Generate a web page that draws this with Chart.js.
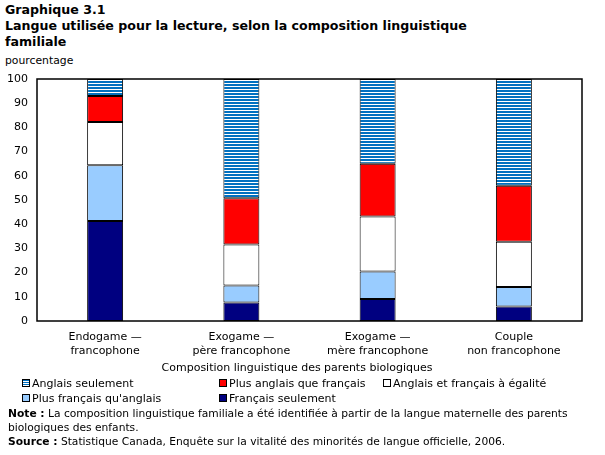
<!DOCTYPE html>
<html><head><meta charset="utf-8">
<script src="https://cdn.jsdelivr.net/npm/chart.js@4"></script>
<style>
html,body{margin:0;padding:0;background:#fff;}
body{width:605px;height:455px;position:relative;overflow:hidden;font-family:"DejaVu Sans",Verdana,sans-serif;color:#000;}
.abs{position:absolute;white-space:nowrap;}
#title{left:5px;top:2px;font-weight:bold;font-size:12.6px;line-height:16px;}
#ylab{left:5px;top:54px;font-size:10.8px;}
#chartbox{position:absolute;left:0;top:0;width:605px;height:455px;}
#xtitle{top:361px;left:297px;transform:translateX(-50%);font-size:11px;}
#legend{left:0;top:377px;width:605px;height:30px;font-size:11px;}
.li{position:absolute;white-space:nowrap;line-height:14px;}
.sw{display:inline-block;width:6px;height:6px;border:1px solid #000;margin-right:2px;vertical-align:0px;}
#note{left:8px;top:407px;font-size:10.7px;line-height:14px;}
#src{left:8px;top:435px;font-size:10.7px;line-height:14px;}
</style></head>
<body>
<div id="title" class="abs">Graphique 3.1<br>Langue utilisée pour la lecture, selon la composition linguistique<br>familiale</div>
<div id="ylab" class="abs">pourcentage</div>
<div id="chartbox"><canvas id="c" width="605" height="455"></canvas></div>
<div id="xtitle" class="abs">Composition linguistique des parents biologiques</div>
<div id="legend" class="abs"></div>
<div id="note" class="abs"><b>Note :</b> La composition linguistique familiale a été identifiée à partir de la langue maternelle des parents<br>biologiques des enfants.</div>
<div id="src" class="abs"><b>Source :</b> Statistique Canada, Enquête sur la vitalité des minorités de langue officielle, 2006.</div>
<script>
const categories = [["Endogame —","francophone"],["Exogame —","père francophone"],["Exogame —","mère francophone"],["Couple","non francophone"]];
const seriesNames = ["Français seulement","Plus français qu'anglais","Anglais et français à égalité","Plus anglais que français","Anglais seulement"];
const francaisSeulement = [41.3, 7.6, 9.1, 6.0];
const plusFrancais = [23.1, 7.1, 11.4, 8.1];
const egalite = [17.8, 16.9, 22.7, 18.6];
const plusAnglais = [10.8, 19.1, 21.8, 23.2];
const anglaisSeulement = [7.0, 49.3, 35.0, 44.1];
const yTicks = [0,10,20,30,40,50,60,70,80,90,100];

const stripeBlue = "#0070C0";
function stripes(){
  const p = document.createElement('canvas'); p.width = 4; p.height = 3;
  const g = p.getContext('2d');
  g.fillStyle = "#fff"; g.fillRect(0,0,4,3);
  g.fillStyle = stripeBlue; g.fillRect(0,0,4,2);
  return g.createPattern(p,'repeat');
}
const colors = ["#000080","#99CCFF","#FFFFFF","#FF0000", null];
const values = [francaisSeulement, plusFrancais, egalite, plusAnglais, anglaisSeulement];

const datasets = values.map((v,i)=>({
  label: seriesNames[i], data: v,
  backgroundColor: colors[i] || stripes(),
  borderColor: "#000", borderWidth: 1, borderSkipped: false,
  categoryPercentage: 1.0, barPercentage: 0.264
}));

const frame = {id:'frame', afterDatasetsDraw(ch){
  const a = ch.chartArea, c = ch.ctx;
  c.save(); c.strokeStyle="#000"; c.lineWidth=1.5;
  c.strokeRect(a.left, a.top, a.right-a.left, a.bottom-a.top);
  c.restore();
}};

new Chart(document.getElementById('c'), {
  type:'bar',
  data:{labels:categories, datasets},
  options:{
    responsive:false, animation:false, devicePixelRatio:1,
    layout:{padding:{top:79, left:0, right:23, bottom:94}},
    plugins:{legend:{display:false}, tooltip:{enabled:false}},
    scales:{
      x:{stacked:true, grid:{display:false, drawTicks:false}, border:{display:false},
         ticks:{color:"#000", font:{family:"DejaVu Sans", size:11}, padding:10, maxRotation:0, autoSkip:false},
         afterFit(s){ s.height = 40; }},
      y:{stacked:true, min:0, max:100, grid:{display:false, drawTicks:false}, border:{display:false},
         afterBuildTicks(s){ s.ticks = yTicks.map(v=>({value:v})); },
         ticks:{color:"#000", font:{family:"DejaVu Sans", size:11}, padding:9},
         afterFit(s){ s.width = 37; }}
    }
  },
  plugins:[frame]
});

// HTML legend built from series
const legendOrder = [4,3,2,1,0];
const pos = [[22,0],[219,0],[383,0],[22,15],[219,15]];
const lg = document.getElementById('legend');
legendOrder.forEach((si,k)=>{
  const d = document.createElement('div'); d.className='li';
  d.style.left = pos[k][0]+'px'; d.style.top = pos[k][1]+'px';
  const sw = document.createElement('span'); sw.className='sw';
  sw.style.background = colors[si] ? colors[si] : `repeating-linear-gradient(to bottom, ${stripeBlue} 0 1px, #fff 1px 2px)`;
  d.appendChild(sw); d.appendChild(document.createTextNode(seriesNames[si]));
  lg.appendChild(d);
});
</script>
</body></html>
